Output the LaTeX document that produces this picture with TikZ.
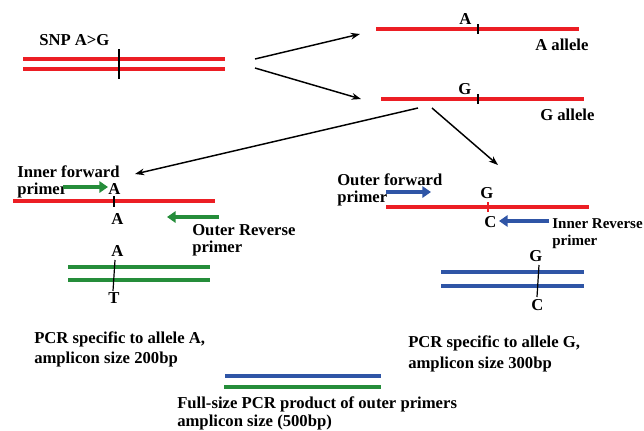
\documentclass[tikz,border=0pt]{standalone}
\usepackage{fontspec}
\setmainfont{Liberation Serif}
\usepackage{tikz}
\usetikzlibrary{arrows.meta}

\definecolor{strandred}{RGB}{236,30,36}
\definecolor{strandgreen}{RGB}{37,141,58}
\definecolor{strandblue}{RGB}{47,85,166}

\begin{document}
\begin{tikzpicture}[x=0.75pt,y=0.75pt,yscale=-1,xscale=1,
    strand/.style={line width=3pt},
    snptick/.style={line width=0.9pt},
    link/.style={line width=1.1pt,-{Stealth[length=7pt,width=5pt]}},
    primer/.style={line width=3pt,-{Triangle[length=6.5pt,width=8.5pt]}},
    lbl/.style={font=\bfseries\fontsize{12.5}{12.75}\selectfont,inner sep=0pt,anchor=north west,align=left}]
        \useasboundingbox (0,0) rectangle (644,430);

        %Straight Lines  (genomic double strand)
        \draw[strand,strandred]    (23,59) -- (225,59) ;
        \draw[strand,strandred]    (23,69) -- (225,69) ;
        \draw[snptick]    (119,49) -- (119,79) ;
        \node[lbl] (snp) at (39,34) {SNP A>G};

        %Straight Lines  (A allele)
        \draw[strand,strandred]    (376,29) -- (579,29) ;
        \draw[snptick]    (478,24) -- (478,34) ;
        \node[lbl] (aTop) at (459,13) {A};
        \node[lbl] (aAllele) at (535,39) {A allele};

        %Straight Lines  (G allele)
        \draw[strand,strandred]    (381,99) -- (584,99) ;
        \draw[snptick]    (478,94) -- (478,104) ;
        \node[lbl] (gTop) at (458,83) {G};
        \node[lbl] (gAllele) at (540,109) {G allele};

        %Arrows between strands
        \coordinate (snpUp) at (255,59);
        \coordinate (snpDown) at (255,68);
        \coordinate (alleleAIn) at (360,34);
        \coordinate (alleleGIn) at (361,99);
        \coordinate (gOutL) at (418,108);
        \coordinate (gOutR) at (432,108);
        \coordinate (specAIn) at (135,174);
        \coordinate (specGIn) at (498,165);
        \draw[link] (snpUp) -- (alleleAIn);
        \draw[link] (snpDown) -- (alleleGIn);
        \draw[link] (gOutL) -- (specAIn);
        \draw[link] (gOutR) -- (specGIn);

        %Allele A specific reaction
        \node[lbl] (innerFwd) at (17,165) {Inner forward\\primer};
        \coordinate (innerFwdTail) at (63,187);
        \coordinate (innerFwdTip) at (108,187);
        \draw[primer,strandgreen] (innerFwdTail) -- (innerFwdTip);
        \node[lbl] (aFwd) at (108,183) {A};
        \draw[strand,strandred]    (13,201) -- (215,201) ;
        \draw[snptick]    (114,196) -- (114,207) ;
        \node[lbl] (aRev) at (111,213) {A};
        \coordinate (outerRevTail) at (219,217);
        \coordinate (outerRevTip) at (167,217);
        \draw[primer,strandgreen] (outerRevTail) -- (outerRevTip);
        \node[lbl] (outerRev) at (192,224) {Outer Reverse\\primer};

        %Product of allele A reaction
        \node[lbl] (aProd) at (111,245) {A};
        \draw[strand,strandgreen]    (68,267) -- (210,267) ;
        \draw[strand,strandgreen]    (68,280) -- (210,280) ;
        \draw[snptick]    (115,260) -- (113,291) ;
        \node[lbl] (tProd) at (108,292) {T};
        \node[lbl,font=\bfseries\fontsize{12.5}{15}\selectfont] (specA) at (34,331) {PCR specific to allele A,\\amplicon size 200bp};

        %Allele G specific reaction
        \node[lbl] (outerFwd) at (337,173) {Outer forward\\primer};
        \coordinate (outerFwdTail) at (386,192);
        \coordinate (outerFwdTip) at (431,192);
        \draw[primer,strandblue] (outerFwdTail) -- (outerFwdTip);
        \node[lbl] (gFwd) at (480,187) {G};
        \draw[strand,strandred]    (386,207) -- (589,207) ;
        \draw[strandred,line width=2.2pt]    (488,202) -- (488,212) ;
        \node[lbl] (cRev) at (484,216) {C};
        \coordinate (innerRevTail) at (549,221);
        \coordinate (innerRevTip) at (499,221);
        \draw[primer,strandblue] (innerRevTail) -- (innerRevTip);
        \node[lbl,anchor=north east,font=\bfseries\fontsize{11.25}{12.75}\selectfont] (innerRev) at (643,218) {Inner Reverse\\primer};

        %Product of allele G reaction
        \node[lbl] (gProd) at (529,250) {G};
        \draw[strand,strandblue]    (441,272) -- (584,272) ;
        \draw[strand,strandblue]    (441,286) -- (584,286) ;
        \draw[snptick]    (539,265) -- (537,297) ;
        \node[lbl] (cProd) at (531,299) {C};
        \node[lbl,font=\bfseries\fontsize{12.5}{15.75}\selectfont] (specG) at (408,335) {PCR specific to allele G,\\amplicon size 300bp};

        %Full-size product of outer primers
        \draw[strand,strandblue]    (225,376) -- (381,376) ;
        \draw[strand,strandgreen]    (224,387) -- (381,387) ;
        \node[lbl,font=\bfseries\fontsize{12.5}{13.5}\selectfont] (fullSize) at (177,396) {Full-size PCR product of outer primers\\amplicon size (500bp)};

    \end{tikzpicture}
\end{document}
